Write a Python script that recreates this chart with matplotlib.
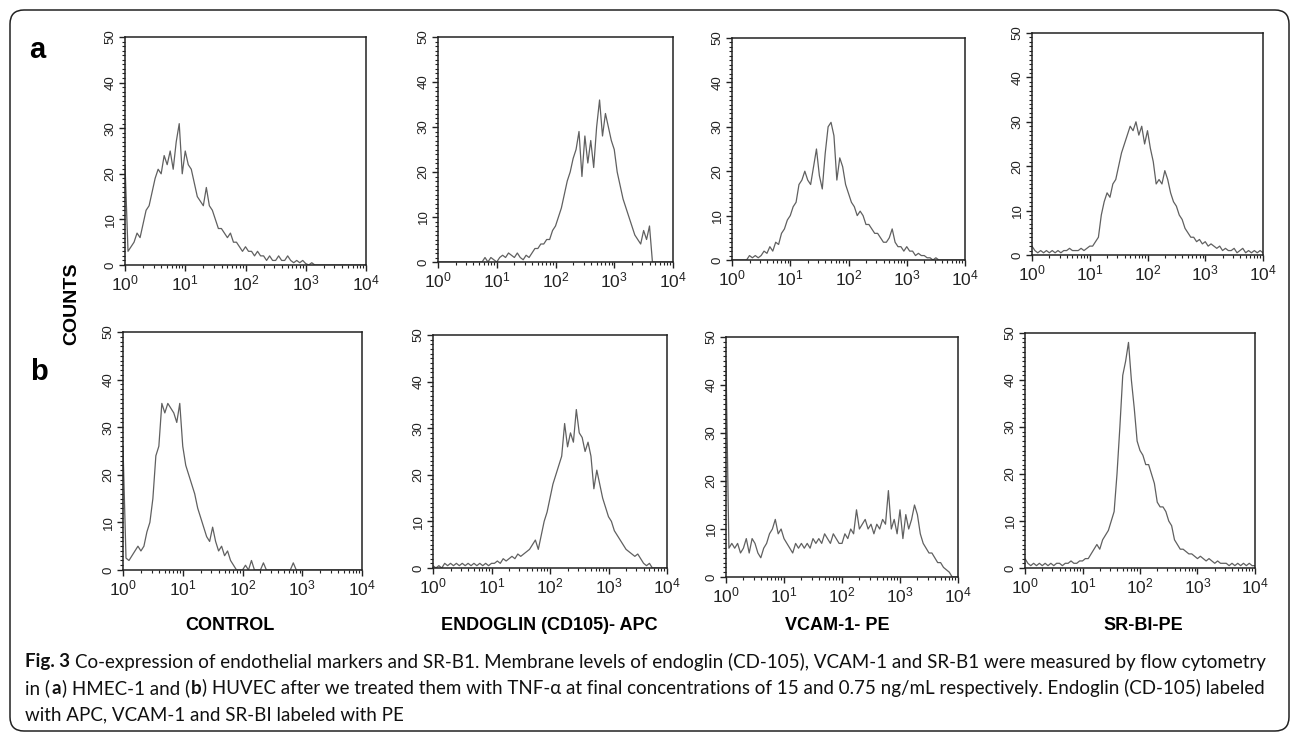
import numpy as np
import matplotlib
matplotlib.use('Agg')
import matplotlib.pyplot as plt
import matplotlib.patches as mpatches
from matplotlib.ticker import FixedLocator, MultipleLocator, LogLocator, NullFormatter

plt.rcParams['font.family'] = ['Liberation Sans', 'DejaVu Sans']
plt.rcParams['mathtext.default'] = 'regular'

W, H = 1292, 733

# log10 channel step of the histograms (one count every 0.05 decade, 10^0 .. 10^4)
step = 0.05

# row a : HMEC-1
a_control = [22, 3, 4, 5, 7, 6, 9, 12, 13, 16,
             19, 21, 20, 24, 22, 25, 21, 27, 31, 20,
             25, 22, 21, 18, 15, 14, 13, 17, 13, 12,
             10, 8, 8, 7, 6, 7, 5, 5, 4, 3,
             4, 3, 3, 2, 3, 2, 2, 1, 2, 1,
             1, 2, 1, 1, 2, 1, 0.5, 1, 0.5, 1,
             0.3, 0, 0.5, 0, 0, 0, 0, 0, 0, 0,
             0, 0, 0, 0, 0, 0, 0, 0, 0, 0,
             0]
a_endoglin = [0, 0, 0, 0, 0, 0, 0, 0, 0, 0,
              0, 0, 0, 0, 0, 0, 1, 0, 1, 0.5,
              0, 1, 1.5, 1, 2, 1.5, 1, 2, 1, 0.5,
              1.5, 1, 2, 3, 3, 4, 4, 5, 5, 7,
              8, 10, 12, 15, 18, 20, 23, 25, 29, 19,
              28, 22, 27, 21, 30, 36, 28, 33, 30, 27,
              25, 20, 17, 14, 12, 10, 8, 6, 5, 4,
              7, 5, 8, 0, 0, 0, 0, 0, 0, 0,
              0]
a_vcam = [0, 0, 0, 0, 0, 0, 1, 0.5, 1, 0.5,
          1, 2, 1.5, 3, 2, 4, 3.5, 6, 7, 9,
          10, 12, 13, 17, 18, 20, 18, 17, 21, 25,
          19, 16, 24, 30, 31, 28, 18, 23, 21, 17,
          15, 13, 12, 10, 11, 10, 8, 8, 7, 6,
          6, 5, 4, 4, 5, 7, 4, 3, 3, 2,
          3, 2, 2, 1, 1.5, 1, 1, 0.5, 0.5, 0,
          0.5, 0, 0, 0, 0, 0, 0, 0, 0, 0,
          0]
a_srbi = [2, 1, 0.5, 1, 0.5, 1, 0.5, 1, 0.5, 1,
          0.5, 1, 1, 1.5, 1, 1, 1, 1.5, 1, 1.5,
          2, 2, 3, 4, 9, 12, 14, 13, 16, 17,
          20, 23, 25, 27, 29, 28, 30, 27, 29, 25,
          28, 24, 21, 16, 17, 16, 19, 17, 14, 12,
          11, 9, 8, 6, 5, 4, 4, 3, 3.5, 2.5,
          3, 2, 2.5, 2, 1.5, 2, 1, 1.5, 1, 1,
          1.5, 0.5, 1, 1.5, 0.5, 1, 0.5, 1, 0.5, 1,
          0.5]

# row b : HUVEC
b_control = [26, 2.5, 2, 3, 4, 5, 4, 5, 8, 10,
             15, 24, 26, 35, 33, 35, 34, 33, 31, 35,
             26, 22, 20, 18, 16, 13, 11, 9, 7, 6,
             9, 6, 4, 5, 3, 4, 2, 1, 0, 0,
             0, 1, 0, 2, 0, 0, 0, 1.5, 0, 0,
             0, 0, 0, 0, 0, 0, 0, 1.5, 0, 0,
             0, 0, 0, 0, 0, 0, 0, 0, 0, 0,
             0, 0, 0, 0, 0, 0, 0, 0, 0, 0,
             0]
b_endoglin = [0.5, 0, 0.5, 0, 1, 0.5, 1, 0.5, 1, 0.5,
              1, 0.5, 1, 0.5, 1, 0.5, 1, 0.5, 1, 0.5,
              1, 1, 1.5, 1, 2, 1.5, 2, 2.5, 2, 3,
              2.5, 3, 3.5, 4, 5, 6, 4, 7, 10, 12,
              15, 18, 20, 22, 24, 31, 26, 29, 27, 34,
              29, 28, 25, 27, 24, 17, 21, 18, 15, 13,
              11, 10, 8, 7, 6, 5, 4, 3.5, 3, 2.5,
              3, 2, 1, 0.5, 1, 0, 0, 0, 0, 0,
              0]
b_vcam = [45, 6, 7, 6, 7, 5, 6, 8, 5, 8,
          7, 5, 4, 6, 7, 9, 10, 12, 9, 10,
          8, 7, 6, 5, 7, 6, 7, 6, 7, 6,
          8, 7, 8, 7, 9, 8, 7, 9, 8, 7,
          7, 9, 8, 10, 9, 14, 10, 11, 12, 10,
          11, 9, 11, 10, 12, 11, 18, 10, 12, 9,
          14, 8, 13, 10, 12, 15, 13, 9, 7, 6,
          5, 5, 4, 3, 3, 2, 1.5, 1, 0, 0,
          0]
b_srbi = [2, 1, 0.5, 1, 0.5, 1, 0.5, 1, 0.5, 1,
          0.5, 1, 1, 0.5, 1, 1, 1.5, 1, 1, 1.5,
          1.5, 2, 2, 3, 4, 5, 4, 6, 7, 8,
          10, 12, 20, 30, 41, 44, 48, 40, 34, 27,
          25, 24, 22, 22, 20, 18, 14, 13, 13, 12,
          10, 9, 6, 5, 4, 4, 3.5, 3, 3, 2.5,
          2, 2.5, 2, 1.5, 2, 1.5, 1, 1.5, 1, 1,
          1, 0.5, 1, 0.5, 1, 0.5, 1, 0.5, 1, 0.5,
          0.5]

x_labels = ['CONTROL', 'ENDOGLIN (CD105)- APC', 'VCAM-1- PE', 'SR-BI-PE']
x_ticks = [1, 10, 100, 1000, 10000]
x_ticklabels = [r'$10^{0}$', r'$10^{1}$', r'$10^{2}$', r'$10^{3}$', r'$10^{4}$']
y_ticks = [0, 10, 20, 30, 40, 50]

# axes boxes in pixels: left, top, right, bottom
boxes = [(125, 37, 366, 265), (438, 37, 673, 262), (732, 38, 965, 260), (1032, 33, 1263, 255),
         (123, 332, 362, 570), (433, 335, 667, 568), (726, 337, 958, 577), (1025, 333, 1255, 568)]
series = [a_control, a_endoglin, a_vcam, a_srbi, b_control, b_endoglin, b_vcam, b_srbi]
label_x = [230, 549, 837, 1143]

fig = plt.figure(figsize=(W / 100, H / 100), dpi=100)

for (l, t, r, b), counts in zip(boxes, series):
    ax = fig.add_axes([l / W, 1 - b / H, (r - l) / W, (b - t) / H])
    logs = step * np.arange(len(counts))
    ax.plot(10 ** logs, counts, color='#606060', lw=0.9)
    ax.set_xscale('log')
    ax.set_xlim(1, 1e4)
    ax.set_ylim(0, 50)
    ax.xaxis.set_major_locator(FixedLocator(x_ticks))
    ax.set_xticklabels(x_ticklabels, fontsize=12.5, color='#222222')
    ax.xaxis.set_minor_locator(LogLocator(base=10, subs=np.arange(2, 10)))
    ax.xaxis.set_minor_formatter(NullFormatter())
    ax.set_yticks(y_ticks)
    ax.set_yticklabels([str(v) for v in y_ticks], fontsize=9.5, rotation=90, va='center',
                       color='#222222')
    ax.yaxis.set_minor_locator(MultipleLocator(1))
    ax.tick_params(which='major', direction='out', length=4, width=1, pad=2, color='#222222')
    ax.tick_params(which='minor', direction='out', length=2, width=0.8, color='#222222')
    for s in ax.spines.values():
        s.set_linewidth(1.1)
        s.set_color('#222222')

for lx, txt in zip(label_x, x_labels):
    fig.text(lx / W, 1 - 625 / H, txt, fontsize=13, fontweight='bold', ha='center', va='center')

fig.text(37 / W, 1 - 50 / H, 'a', fontsize=21, fontweight='bold', ha='center', va='center')
fig.text(39 / W, 1 - 372 / H, 'b', fontsize=21, fontweight='bold', ha='center', va='center')
fig.text(72 / W, 1 - 304 / H, 'COUNTS', fontsize=14, fontweight='bold', rotation=90,
         ha='center', va='center')

# caption with bold pieces
renderer = fig.canvas.get_renderer()
cap_font = 'Lato'
cap_size = 13.5


def text_width(s, bold):
    t = fig.text(0, 0, s, family=cap_font, fontsize=cap_size,
                 fontweight='bold' if bold else 'normal')
    w = t.get_window_extent(renderer).width
    t.remove()
    return w


space = text_width('n n', False) - text_width('nn', False)
caption = [
    (662, [('Fig. 3', True, True), ('Co-expression of endothelial markers and SR-B1. Membrane levels of endoglin '
                                    '(CD-105), VCAM-1 and SR-B1 were measured by flow cytometry', False, False)]),
    (688, [('in (', False, False), ('a', True, False), (') HMEC-1 and (', False, False), ('b', True, False),
           (') HUVEC after we treated them with TNF-\u03b1 at final concentrations of 15 and 0.75 ng/mL '
            'respectively. Endoglin (CD-105) labeled', False, False)]),
    (715, [('with APC, VCAM-1 and SR-BI labeled with PE', False, False)]),
]
for y, segs in caption:
    x = 25
    for txt, bold, gap in segs:
        t = fig.text(x / W, 1 - y / H, txt, family=cap_font, fontsize=cap_size,
                     fontweight='bold' if bold else 'normal', va='center', color='#111111')
        x += t.get_window_extent(renderer).width + (space if gap else 1)

border = mpatches.FancyBboxPatch((0.10, 0.02), 12.79, 7.21, boxstyle='round,pad=0,rounding_size=0.14',
                                 transform=fig.dpi_scale_trans, fill=False, lw=1.1, ec='#222222')
fig.patches.append(border)

fig.savefig('out.png', dpi=100)
